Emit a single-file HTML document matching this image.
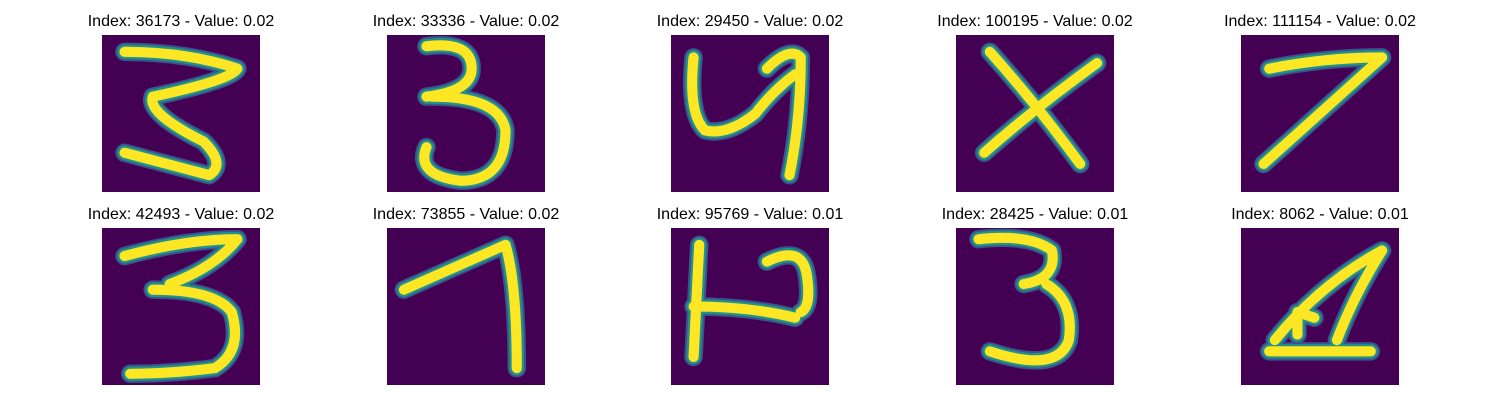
<!DOCTYPE html>
<html><head><meta charset="utf-8"><style>
body{margin:0;background:#fff;width:1500px;height:400px;overflow:hidden;font-family:"Liberation Sans","DejaVu Sans",sans-serif}
.t{position:absolute;font-size:16px;color:#000;text-align:center;width:300px;white-space:nowrap}
svg.p{position:absolute;width:158px;height:157px}
</style></head><body>
<div id="root"></div>
<script>
const titles=["Index: 36173 - Value: 0.02","Index: 33336 - Value: 0.02","Index: 29450 - Value: 0.02","Index: 100195 - Value: 0.02","Index: 111154 - Value: 0.02","Index: 42493 - Value: 0.02","Index: 73855 - Value: 0.02","Index: 95769 - Value: 0.01","Index: 28425 - Value: 0.01","Index: 8062 - Value: 0.01"];
const paths=[
"M4,3 Q15,3 24,6 Q23,8 9,11 Q8,14 18,19 Q22,23 19,25 L4,21",
"M7,2 Q15,1 15,6 Q15,10 7,11 M8,11 Q20,11 21,17 Q21,26 13,26 Q5,25 7,20",
"M4,4 Q3,14 6,17 Q10,18 15,14 Q18,10 22,7 M17,6 Q21,2 23,4 Q23,15 21,25",
"M6,3 Q14,12 22,23 M25,5 Q14,13 5,21",
"M5,6 Q15,4 25,4 Q14,14 4,23",
"M4,5 Q15,2 24,2 Q20,7 12,10 M9,11 Q20,11 23,15 Q25,22 20,25 Q12,26 5,26",
"M3,11 Q12,7 21,3 Q23,10 23,25",
"M5,3 L4,23 M4,14 Q14,14 22,16 M17,6 Q23,3 24,8 Q25,14 23,15",
"M4,2 Q13,1 17,4 Q18,9 12,10 M16,10 Q21,13 20,20 Q18,26 6,22",
"M6,20 Q14,10 25,4 Q20,12 17,20 M5,22 L23,22 M10,19 L10,15 L13,16"
];
const xs=[102,387,671,956,1241], ys=[35,228];
const root=document.getElementById('root');
const NS='http://www.w3.org/2000/svg';
for(let i=0;i<10;i++){
 const x=xs[i%5], y=ys[Math.floor(i/5)];
 const t=document.createElement('div');
 t.className='t';
 
 
 t.style.left=(x+79-150)+'px'; t.style.top=(y-22)+'px';
 t.textContent=titles[i];
 root.appendChild(t);
 const s=document.createElementNS(NS,'svg');
 s.setAttribute('class','p');
 
 
 s.setAttribute('viewBox','0 0 28 28');
 s.setAttribute('preserveAspectRatio','none');
 s.style.left=x+'px'; s.style.top=y+'px';
 s.innerHTML='<rect width="28" height="28" fill="#440154"/>'+
 '<path d="'+paths[i]+'" fill="none" stroke="#3b528b" stroke-width="3.3" stroke-linecap="round" stroke-linejoin="round"/>'+
 '<path d="'+paths[i]+'" fill="none" stroke="#21918c" stroke-width="2.6" stroke-linecap="round" stroke-linejoin="round"/>'+
 '<path d="'+paths[i]+'" fill="none" stroke="#fde725" stroke-width="1.8" stroke-linecap="round" stroke-linejoin="round"/>';
 root.appendChild(s);
}
</script>
</body></html>
